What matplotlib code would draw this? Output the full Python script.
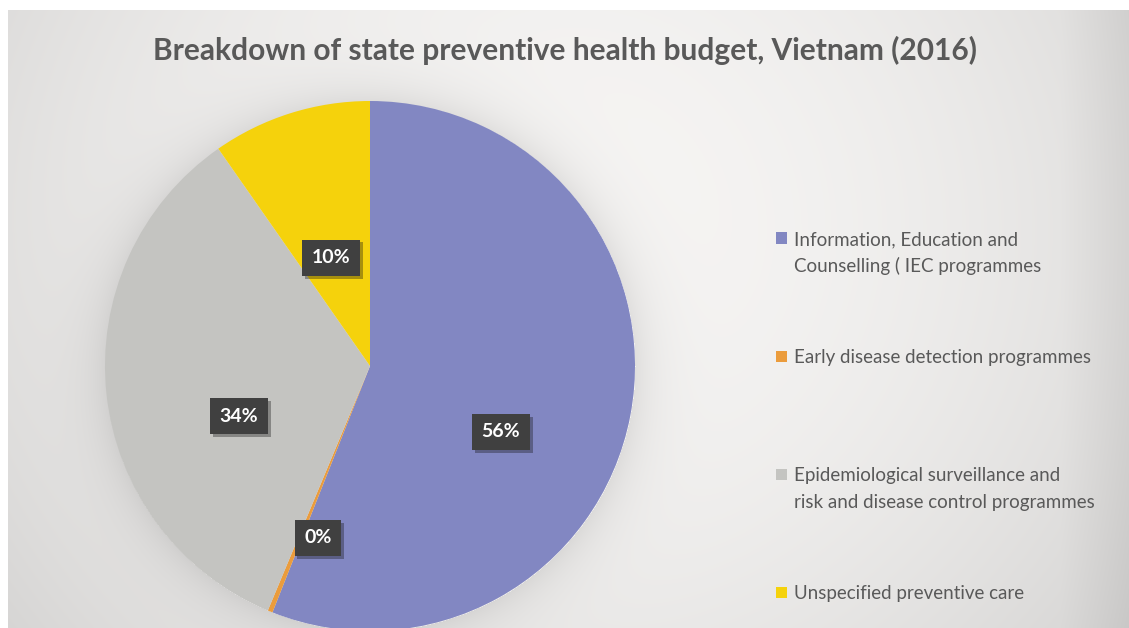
import matplotlib.pyplot as plt
import numpy as np
from matplotlib import patheffects
from matplotlib.patches import Rectangle

# budget shares (percent)
categories = [
    "Information, Education and\nCounselling ( IEC programmes",
    "Early disease detection programmes",
    "Epidemiological surveillance and\nrisk and disease control programmes",
    "Unspecified preventive care",
]
shares = [56.0, 0.3, 34.0, 9.7]
colors = ["#8287c2", "#eb9c3c", "#c4c4c1", "#f5d20c"]

TITLE = "Breakdown of state preventive health budget, Vietnam (2016)"
W, H = 1129, 628

# where Excel dropped the data labels (pie units, centre = 0,0)
label_xy = [(0.494, -0.249), (-0.196, -0.649), (-0.494, -0.189), (-0.147, 0.408)]

fig = plt.figure(figsize=(W / 100, H / 100), dpi=100)
fig.patch.set_facecolor("white")

# soft grey chart-area background with a glow around the pie
pie_cx, pie_cy, pie_r = 370, 366, 265
bg = fig.add_axes([8 / W, 0, 1 - 8 / W, 1 - 10 / H])
yy, xx = np.mgrid[10:H, 8:W]
base = 0.965 - 0.10 * ((xx - 560) / 620) ** 2 - 0.05 * ((yy - 230) / 420) ** 2
base -= 0.05 * np.clip((xx - 1060) / 70, 0, 1)
dist = np.hypot(xx - pie_cx, yy - pie_cy) - pie_r
base -= 0.08 * np.exp(-np.clip(dist, 0, None) / 24) * (dist > 0)
rgb = np.dstack([base, base * 0.995, base * 0.99])
bg.imshow(np.clip(rgb, 0, 1), aspect="auto", interpolation="bilinear")
bg.axis("off")

ax = fig.add_axes([(pie_cx - pie_r) / W, (H - pie_cy - pie_r) / H,
                   2 * pie_r / W, 2 * pie_r / H])
wedges, _ = ax.pie(shares, colors=colors, startangle=90, counterclock=False,
                   radius=1.0, wedgeprops=dict(linewidth=0))
ax.set_xlim(-1, 1)
ax.set_ylim(-1, 1)
ax.set_aspect("equal")
ax.axis("off")

total = sum(shares)
for share, (lx, ly) in zip(shares, label_xy):
    ax.text(lx, ly, f"{round(share / total * 100):.0f}%", ha="center", va="center",
            fontsize=14, fontweight="bold", family="Lato", color="white",
            bbox=dict(boxstyle="square,pad=0.5", fc="#404040", ec="none",
                      path_effects=[patheffects.SimplePatchShadow(offset=(2, -2), alpha=0.35),
                                    patheffects.Normal()]))

fig.text(565 / W, 1 - 60 / H, TITLE, ha="center", va="baseline",
         fontsize=21.5, fontweight="bold", family="Lato", color="#595959")

# legend, laid out the way Excel spaced it
y0, step = 238, 118
for i, (name, col) in enumerate(zip(categories, colors)):
    y = y0 + i * step
    fig.patches.append(Rectangle((776 / W, 1 - (y + 5.5) / H), 11 / W, 11 / H,
                                 transform=fig.transFigure, fc=col, ec="none"))
    for j, line in enumerate(name.split("\n")):
        fig.text(794 / W, 1 - (y + 7 + j * 27) / H, line, ha="left", va="baseline",
                 fontsize=13.5, family="Lato", color="#595959")

fig.savefig("out.png", dpi=100)
